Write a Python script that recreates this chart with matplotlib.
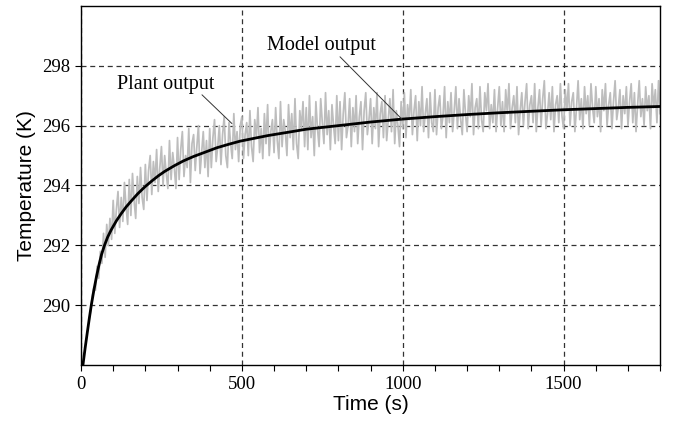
import matplotlib
matplotlib.use("Agg")
import matplotlib.pyplot as plt
from matplotlib.ticker import MultipleLocator

# Model output
model_t = [6, 13, 20, 26, 32, 40, 48, 56, 64, 73, 83, 94, 110, 125, 140, 156, 176,
           198, 220, 240, 260, 290, 318, 350, 385, 422, 460, 494, 540, 582, 650,
           700, 800, 900, 1000, 1100, 1200, 1300, 1400, 1500, 1600, 1700, 1800]
model_T = [288.0, 288.58, 289.12, 289.57, 290.0, 290.5, 290.95, 291.35, 291.7,
           292.0, 292.28, 292.52, 292.82, 293.06, 293.28, 293.48, 293.72, 293.95,
           294.15, 294.32, 294.47, 294.66, 294.82, 294.97, 295.11, 295.26, 295.38,
           295.48, 295.58, 295.67, 295.79, 295.88, 296.0, 296.12, 296.22, 296.3,
           296.37, 296.43, 296.48, 296.53, 296.57, 296.61, 296.64]

# Plant output (grey noisy trace), one sample every 5 s from t = 25 s
plant_t0 = 25
plant_dt = 5
plant_T = [
    289.5, 289.8, 290.3, 290.6, 290.5, 291.3, 290.9, 291.8, 291.4, 292.4, 291.6, 292.7, 292.0, 292.9, 292.2,
    293.5, 292.4, 293.2, 293.8, 292.6, 293.6, 292.8, 294.1, 293.3, 292.7, 294.2, 293.0, 294.4, 293.5, 292.9, 294.3, 293.4, 294.6, 293.6, 293.2,
    294.7, 293.5, 294.5, 295.0, 293.7, 294.8, 294.1, 295.2, 293.8, 294.6, 295.3, 294.0, 295.0, 294.4, 293.9, 295.5, 294.2, 295.1, 294.6, 293.9,
    295.6, 294.2, 295.2, 295.8, 294.3, 295.0, 294.6, 295.9, 294.1, 295.4, 295.7, 294.5, 295.3, 296.0, 294.4, 295.1, 295.8, 294.6, 295.5, 294.3,
    295.9, 294.6, 295.6, 296.2, 294.8, 295.3, 296.0, 294.7, 295.7, 296.3, 295.0, 294.6, 296.1, 295.4, 294.9, 296.4, 295.2, 295.8, 294.8, 296.0,
    296.3, 294.9, 295.7, 296.1, 295.0, 296.5, 295.3, 294.8, 296.2, 295.6, 296.6, 295.1, 295.9, 294.9, 296.4, 295.4, 296.7, 295.0, 295.8, 296.2,
    295.1, 296.6, 295.5, 294.9, 296.8, 295.3, 296.2, 295.8, 295.0, 296.7, 295.6, 296.4, 295.2, 296.9, 295.4, 294.9, 296.5, 295.9, 296.8, 295.3,
    296.6, 295.2, 297.0, 295.6, 296.3, 295.0, 296.8, 295.9, 295.3, 296.9, 296.1, 295.4, 297.1, 295.7, 296.5, 295.2, 296.7, 296.0, 295.4, 297.0,
    295.5, 296.8, 295.2, 296.4, 297.1, 295.6, 296.0, 296.9, 295.3, 296.6, 295.8, 297.0, 295.4, 296.3, 296.8, 295.2, 296.5, 297.1, 295.7, 296.2,
    296.9, 295.4, 296.6, 295.9, 297.1, 295.3, 296.4, 296.8, 295.6, 297.0, 295.5, 296.2, 296.9, 295.8, 297.2, 295.4, 296.5, 296.0, 295.3, 296.8,
    295.9, 297.1, 295.6, 296.7, 296.2, 297.2, 295.7, 296.5, 297.0, 295.5, 296.8, 296.0, 297.3, 295.8, 296.4, 296.9, 295.6, 297.1, 296.1, 295.8,
    297.2, 295.7, 296.6, 297.0, 295.9, 296.3, 297.3, 295.6, 296.8, 296.1, 297.1, 295.8, 296.5, 297.3, 295.9, 296.9, 296.2, 295.7, 297.2, 296.4,
    295.8, 297.0, 296.3, 297.4, 295.7, 296.6, 296.9, 295.9, 297.3, 296.2, 295.8, 297.1, 296.5, 297.4, 295.9, 296.7, 296.1, 297.2, 295.8, 296.6,
    297.3, 296.0, 296.8, 295.8, 297.2, 296.4, 297.4, 295.9, 296.6, 297.0, 296.1, 297.3, 295.7, 296.5, 297.1, 296.0, 296.8, 297.4, 295.9, 296.7,
    297.0, 296.1, 297.4, 295.8, 296.6, 297.2, 296.0, 296.9, 297.5, 295.9, 296.4, 297.1, 296.2, 297.3, 295.8, 296.7, 297.0, 296.1, 297.4, 296.3,
    295.9, 297.2, 296.5, 297.4, 296.0, 296.8, 297.1, 295.8, 296.6, 297.5, 296.2, 296.9, 295.9, 297.3, 296.4, 297.0, 296.0, 297.4, 296.6, 296.1,
    297.3, 296.3, 296.9, 295.8, 297.2, 296.5, 297.4, 296.0, 296.7, 297.1, 295.9, 296.8, 297.5, 296.2, 296.6, 297.2, 295.9, 297.0, 296.4, 297.3,
    296.0, 296.8, 297.4, 296.1, 297.1, 295.8, 296.7, 297.5, 296.3, 296.9, 296.0, 297.3, 296.5, 297.0, 295.9, 297.4, 296.6, 297.2, 296.1, 297.5, 296.4,
]
plant_t = [plant_t0 + i * plant_dt for i in range(len(plant_T))]

x_major = [0, 500, 1000, 1500]
y_ticks = [290, 292, 294, 296, 298]

serif = ["Liberation Serif", "DejaVu Serif"]
sans = ["Liberation Sans", "DejaVu Sans"]

fig = plt.figure(figsize=(6.75, 4.23), dpi=100)
ax = fig.add_axes([0.12, 0.137, 0.858, 0.849])

ax.plot(plant_t, plant_T, color="#bdbdbd", lw=1.25, zorder=2)
ax.plot(model_t, model_T, color="black", lw=2.0, zorder=3,
        solid_joinstyle="round", solid_capstyle="round")

ax.set_xlim(0, 1800)
ax.set_ylim(288, 300)
ax.set_xticks(x_major)
ax.xaxis.set_minor_locator(MultipleLocator(100))
ax.set_yticks(y_ticks)
ax.tick_params(axis="both", which="both", direction="out", length=4, width=0.8,
               pad=4, labelsize=13.5)
for lab in ax.get_xticklabels() + ax.get_yticklabels():
    lab.set_fontfamily(serif)

ax.grid(True, which="major", color="#333333", linestyle=(0, (4, 3)), lw=0.9, zorder=1)
ax.set_axisbelow(True)
for s in ax.spines.values():
    s.set_linewidth(1.0)

ax.set_xlabel("Time (s)", fontsize=15, family=sans, labelpad=1)
ax.set_ylabel("Temperature (K)", fontsize=15, family=sans, labelpad=4)

ax.text(264, 297.37, "Plant output", fontsize=14.5, family=serif, ha="center", va="center")
ax.annotate("", xy=(469, 296.07), xytext=(376, 297.03),
            arrowprops=dict(arrowstyle="-", color="#333333", lw=0.7, shrinkA=0, shrinkB=0))
ax.text(746, 298.67, "Model output", fontsize=14.5, family=serif, ha="center", va="center")
ax.annotate("", xy=(997, 296.22), xytext=(805, 298.3),
            arrowprops=dict(arrowstyle="-", color="#333333", lw=0.7, shrinkA=0, shrinkB=0))

fig.savefig("out.png", dpi=100)
